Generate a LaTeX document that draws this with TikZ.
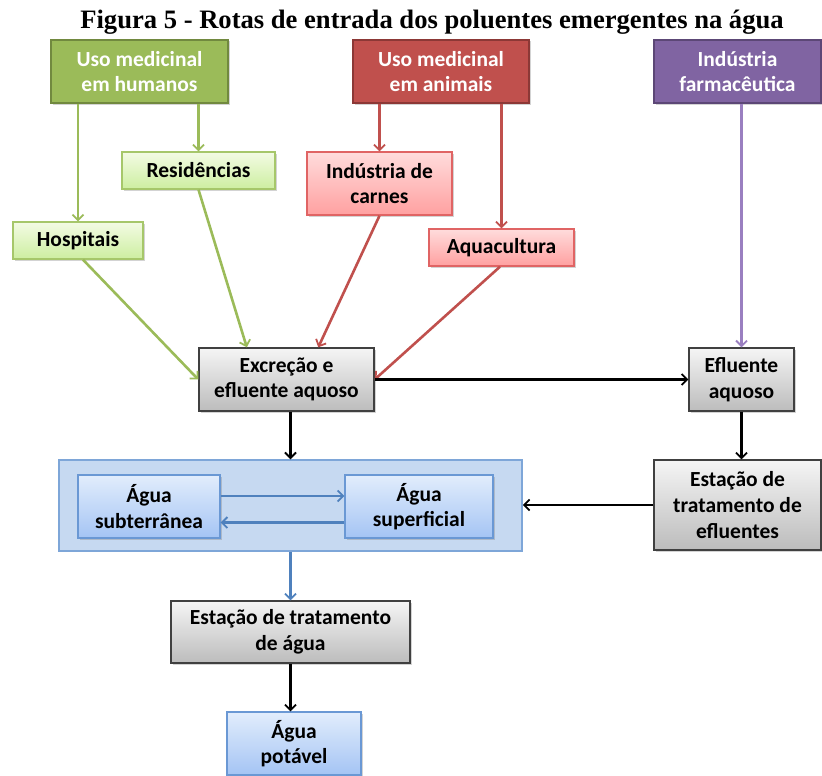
\documentclass[tikz,border=0pt]{standalone}
\usepackage{fontspec}
\setmainfont{Carlito}
\newfontfamily\titlefont{Liberation Serif}
\usetikzlibrary{arrows.meta,shadows,calc}
\definecolor{gdark}{HTML}{9BBB59}
\definecolor{gborder}{HTML}{71893F}
\definecolor{rdark}{HTML}{C0504D}
\definecolor{rborder}{HTML}{8C3836}
\definecolor{pdark}{HTML}{8064A2}
\definecolor{pborder}{HTML}{5C4776}
\definecolor{glt}{HTML}{F3FBE4}
\definecolor{glb}{HTML}{CDEEA0}
\definecolor{glborder}{HTML}{A6C76A}
\definecolor{rlt}{HTML}{FFDCDC}
\definecolor{rlb}{HTML}{FFA0A0}
\definecolor{rlborder}{HTML}{E06464}
\definecolor{blt}{HTML}{E2EDFC}
\definecolor{blb}{HTML}{A4C4F4}
\definecolor{blborder}{HTML}{6A98D4}
\definecolor{grt}{HTML}{F5F5F5}
\definecolor{grb}{HTML}{BCBCBC}
\definecolor{contfill}{HTML}{C6D9F1}
\definecolor{contborder}{HTML}{7EA6D8}
\definecolor{bluearrow}{HTML}{4F81BD}
\definecolor{purplearrow}{HTML}{9A7FC0}
\definecolor{greenarrow}{HTML}{9BBB59}
\definecolor{redarrow}{HTML}{C0504D}
\begin{document}
\begin{tikzpicture}[x=1pt,y=-1pt,
  base/.style={rectangle, align=center, inner sep=0pt, line width=1.4pt,
    font=\fontsize{21.5}{25.6}\selectfont\bfseries,
    drop shadow={opacity=0.35, shadow xshift=1.5pt, shadow yshift=-1.5pt}},
  topbox/.style={base, text=white},
  greentop/.style={topbox, fill=gdark, draw=gborder},
  redtop/.style={topbox, fill=rdark, draw=rborder},
  purpletop/.style={topbox, fill=pdark, draw=pborder},
  greenbox/.style={base, top color=glt, bottom color=glb, draw=glborder},
  redbox/.style={base, top color=rlt, bottom color=rlb, draw=rlborder},
  bluebox/.style={base, top color=blt, bottom color=blb, draw=blborder},
  graybox/.style={base, top color=grt, bottom color=grb, draw=black!75},
  container/.style={rectangle, fill=contfill, draw=contborder, line width=1.5pt, inner sep=0pt},
  conn/.style={line width=2.6pt, -{Straight Barb[length=5.5pt,width=11pt,line width=1.8pt]}},
  sz/.style n args={2}{minimum width=#1pt, minimum height=#2pt}
]
\useasboundingbox (0,0) rectangle (822,776);

\node[font=\titlefont\bfseries\fontsize{26.6}{30}\selectfont, anchor=base] (title) at (432,29) {Figura 5 - Rotas de entrada dos poluentes emergentes na água};

% top sources
\node[greentop, sz={177}{63}] (gh) at (139.5,71.5) {Uso medicinal\\em humanos};
\node[redtop, sz={176}{63}] (ra) at (441,71.5) {Uso medicinal\\em animais};
\node[purpletop, sz={167}{63}] (farm) at (737.5,71.5) {Indústria\\farmacêutica};

% intermediate
\node[greenbox, sz={153}{37}] (res) at (198.5,170.5) {Residências};
\node[greenbox, sz={130}{37}] (hosp) at (78,240.5) {Hospitais};
\node[redbox, sz={145}{63}] (carnes) at (379.5,183.5) {Indústria de\\carnes};
\node[redbox, sz={145}{37}] (aqua) at (501.5,247.5) {Aquacultura};

% gray
\node[graybox, sz={175}{63}] (exc) at (286.5,379.5) {Excreção e\\efluente aquoso};
\node[graybox, sz={105}{63}] (efl) at (741.5,379.5) {Efluente\\aquoso};
\node[graybox, sz={167}{90}] (ete) at (737.5,505) {Estação de\\tratamento de\\efluentes};

% water container
\node[container, sz={463}{91}] (cont) at (290.5,505.5) {};
\node[bluebox, sz={142}{63}] (sub) at (149,506.5) {Água\\subterrânea};
\node[bluebox, sz={148}{63}] (sup) at (419,506.5) {Água\\superficial};

\node[graybox, sz={239}{62}] (eta) at (290.5,632) {Estação de tratamento\\de água};
\node[bluebox, sz={134}{63}] (pot) at (294,743.5) {Água\\potável};

% connectors
\draw[conn, greenarrow] (gh.south -| hosp.north) -- (hosp.north);
\draw[conn, greenarrow] (gh.south -| res.north) -- (res.north);
\draw[conn, redarrow] (ra.south -| carnes.north) -- (carnes.north);
\draw[conn, redarrow] (ra.south -| aqua.north) -- (aqua.north);
\draw[conn, purplearrow] (farm.south -| efl.north) -- (efl.north);

\draw[conn, greenarrow] ([xshift=5pt]hosp.south) -- (exc.west);
\draw[conn, greenarrow] (res.south) -- ($(exc.north west)!0.275!(exc.north east)$);
\draw[conn, redarrow] (carnes.south) -- ($(exc.north west)!0.68!(exc.north east)$);
\draw[conn, redarrow] ([xshift=-1.5pt]aqua.south) -- (exc.east);

\draw[conn, black] (exc.east) -- (efl.west);
\draw[conn, black] (efl.south) -- (efl.south |- ete.north);
\draw[conn, black] (ete.west) -- (ete.west -| cont.east);
\draw[conn, black] (cont.north |- exc.south) -- (cont.north);

\draw[conn, bluearrow] ([yshift=10.5pt]sub.east) -- ([yshift=10.5pt]sup.west);
\draw[conn, bluearrow] ([yshift=-16pt]sup.west) -- ([yshift=-16pt]sub.east);

\draw[conn, bluearrow] (eta.north |- cont.south) -- (eta.north);
\draw[conn, black] (eta.south) -- (eta.south |- pot.north);
\end{tikzpicture}
\end{document}
